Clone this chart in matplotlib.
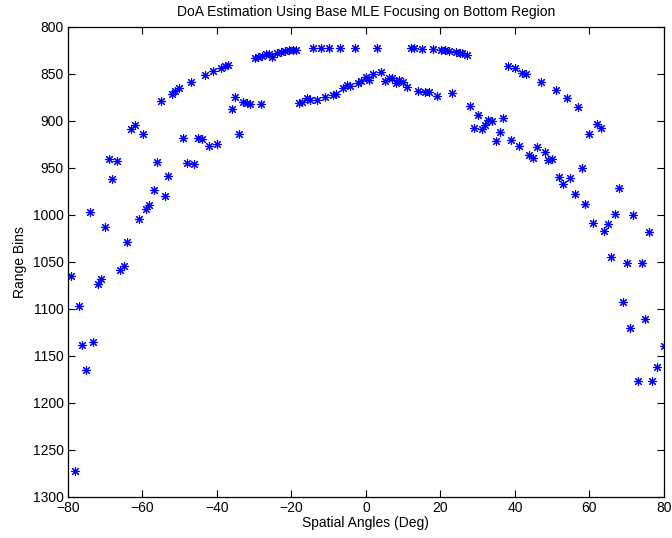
import matplotlib
matplotlib.use('Agg')
import matplotlib.pyplot as plt

plt.rcParams.update({'font.family': ['Liberation Sans', 'DejaVu Sans'], 'font.size': 10})

# estimated direction of arrival (deg) and range bin for each detection
angles = [
    -79.1, -78.1, -77.0, -76.1, -75.0, -74.0, -73.2, -72.0, -71.0, -69.9,
    -69.0, -68.1, -66.8, -66.0, -65.0, -64.0, -63.0, -62.0, -61.0, -59.9,
    -58.9, -58.1, -57.0, -56.0, -55.1, -53.9, -53.0, -52.0, -51.2, -50.2,
    -49.0, -48.1, -47.0, -46.0, -45.1, -44.1, -43.1, -42.0, -41.1, -40.0,
    -38.9, -37.9, -37.1, -36.0, -35.1, -34.0, -33.0, -32.0, -31.2, -28.1,
    -29.8, -29.0, -28.0, -26.8, -26.0, -25.1, -23.9, -22.8, -21.7, -20.6,
    -19.5, -18.8,
    -17.9, -17.2, -15.9, -15.0, -13.1, -11.0, -8.9, -8.0, -6.1, -5.0,
    -4.3, -2.1, -1.4, 0.0, 0.9, 2.0, 4.0, 5.1, 6.3, 6.9,
    8.1, 8.9, 9.9, 10.9, 14.0, 15.8, 16.9, 19.1, 23.0, 28.0,
    -14.1, -12.0, -9.9, -7.0, -2.9, 2.9, 12.1, 12.9, 15.1, 17.9,
    20.1, 21.3, 22.2, 24.3, 25.2, 25.9, 27.0,
    38.0, 40.0, 41.9, 42.9, 46.9, 51.0, 53.9, 56.9, 59.9, 61.9, 63.0,
    29.0, 30.0, 31.1, 32.0, 32.9, 33.9, 35.0, 36.0, 36.9, 38.9,
    41.0, 43.8, 44.9, 45.9, 48.0, 48.8, 49.9, 51.9, 52.9, 54.9,
    56.0, 58.0, 58.9, 61.0, 63.9, 65.0, 66.8, 68.0, 71.8, 75.9,
    65.9, 70.0, 74.0, 69.0, 75.0, 71.0, 80.0, 78.1, 73.1, 76.9,
]
range_bins = [
    1065.5, 1273.0, 1096.8, 1138.6, 1165.2, 997.5, 1135.7, 1073.4, 1068.7, 1013.4,
    940.7, 961.7, 942.6, 1058.8, 1054.6, 1028.7, 908.8, 904.6, 1004.6, 914.5,
    994.3, 989.7, 973.4, 943.6, 879.0, 979.8, 958.8, 871.3, 868.4, 865.5,
    918.8, 944.7, 859.0, 945.7, 918.8, 919.8, 851.0, 927.3, 847.0, 924.8,
    843.6, 842.0, 840.7, 887.9, 874.5, 913.8, 879.8, 880.8, 881.9, 882.6,
    833.0, 832.0, 830.9, 829.4, 829.4, 831.9, 828.3, 826.6, 825.4, 824.8,
    824.5, 824.8,
    880.9, 879.8, 875.5, 878.0, 878.3, 874.5, 872.7, 871.6, 864.9, 862.0,
    863.1, 859.6, 857.8, 853.8, 856.7, 850.6, 847.9, 857.4, 854.9, 854.3,
    859.6, 857.0, 858.5, 863.8, 868.4, 869.1, 869.8, 873.7, 870.9, 884.0,
    823.0, 823.0, 823.0, 823.0, 823.0, 823.0, 823.0, 823.0, 824.0, 823.7,
    824.5, 825.0, 825.4, 826.9, 827.6, 828.5, 829.7,
    841.8, 844.3, 848.9, 850.6, 858.8, 867.7, 875.5, 885.4, 914.5, 903.8, 908.1,
    908.1, 893.9, 908.8, 904.6, 899.3, 900.0, 921.6, 911.7, 896.8, 920.8,
    926.9, 936.5, 939.4, 927.7, 933.6, 941.8, 940.7, 960.2, 967.0, 960.6,
    978.3, 950.6, 988.6, 1008.5, 1017.3, 1009.6, 999.6, 971.3, 1000.3, 1018.7,
    1044.7, 1051.0, 1051.7, 1092.6, 1110.6, 1120.5, 1139.7, 1162.3, 1176.6, 1176.6,
]

fig = plt.figure(figsize=(6.72, 5.38), dpi=100)
ax = fig.add_axes([0.1009, 0.0768, 0.8872, 0.8736])
ax.plot(angles, range_bins, linestyle='none', marker=(8, 2, 0),
        markersize=6.5, markeredgewidth=0.8, color='#0000ff')

ax.set_xlim(-80, 80)
ax.set_ylim(1300, 800)
ax.set_xticks(range(-80, 81, 20))
ax.set_yticks(range(800, 1301, 50))
ax.tick_params(direction='in', top=True, right=True, length=5, width=0.8, pad=3)
for s in ax.spines.values():
    s.set_linewidth(0.9)

ax.set_title('DoA Estimation Using Base MLE Focusing on Bottom Region', fontsize=10, pad=8)
ax.set_xlabel('Spatial Angles (Deg)', labelpad=1)
ax.set_ylabel('Range Bins', labelpad=4)

fig.savefig('out.png', dpi=100)
